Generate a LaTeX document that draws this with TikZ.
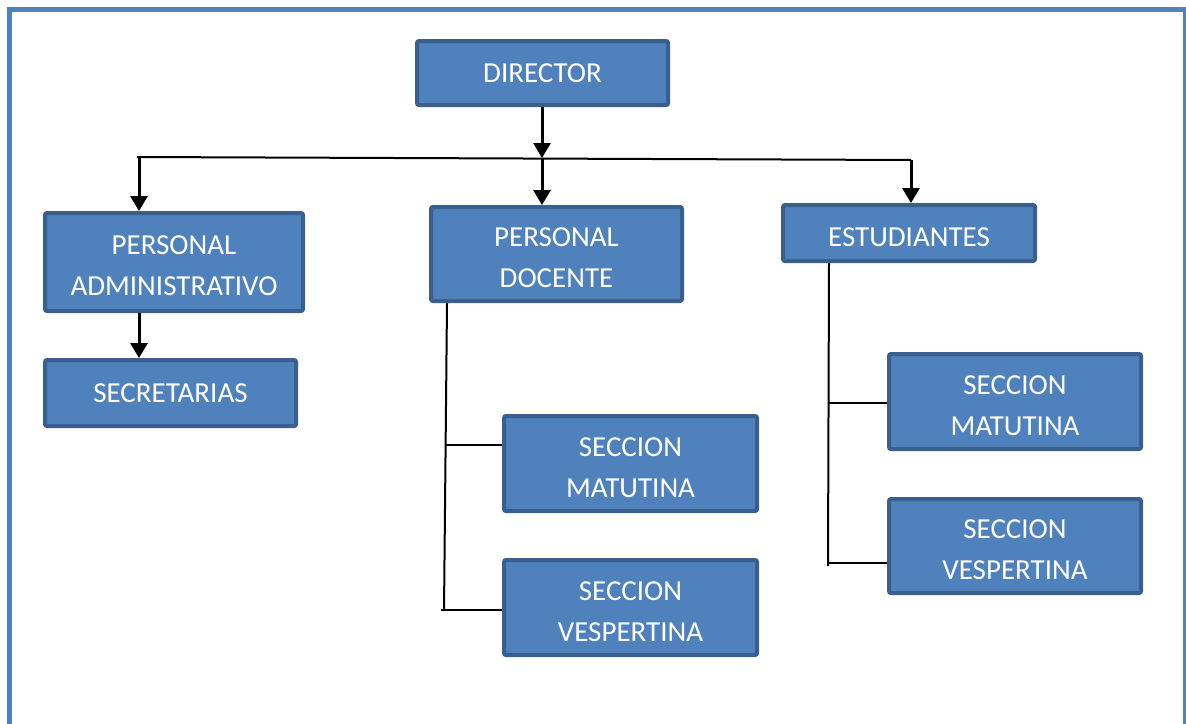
\documentclass[tikz,border=0pt]{standalone}
\usepackage{fontspec}
\setmainfont{Carlito}
\usetikzlibrary{arrows.meta}
\definecolor{azul}{HTML}{4F81BD}
\definecolor{azuloscuro}{HTML}{3A5F8E}
\newcommand{\bajatexto}{\rule{0pt}{27pt}}

\tikzset{
  unidad/.style={draw=azuloscuro, fill=azul, line width=4pt, rounded corners=2pt,
    text=white, align=center, inner sep=0pt, font=\fontsize{29}{41}\selectfont},
  flecha/.style={-{Triangle[length=15pt,width=17pt]}, line width=3pt},
  linea/.style={line width=2pt},
  marco/.style={draw=azul, line width=5pt}
}

\begin{document}
\begin{tikzpicture}[x=1pt,y=-1pt]
    \useasboundingbox (0,0) rectangle (1186,723);
    \draw[marco] (9.5,760) -- (9.5,9.5) -- (1185,9.5) -- (1185,760);

    % cajas
    \node[unidad, minimum width=251pt, minimum height=64pt] (director) at (542.5,73) {DIRECTOR};
    \node[unidad, minimum width=258pt, minimum height=98pt] (padmin) at (174,262) {\bajatexto PERSONAL\\ADMINISTRATIVO};
    \node[unidad, minimum width=251pt, minimum height=66pt] (secret) at (170.5,393) {SECRETARIAS};
    \node[unidad, minimum width=251pt, minimum height=94pt] (pdocente) at (556.5,254) {\bajatexto PERSONAL\\DOCENTE};
    \node[unidad, minimum width=252pt, minimum height=56pt] (estud) at (909,233) {\bajatexto ESTUDIANTES};
    \node[unidad, minimum width=253pt, minimum height=95pt] (dmat) at (630.5,463.5) {\bajatexto SECCION\\MATUTINA};
    \node[unidad, minimum width=253pt, minimum height=95pt] (dvesp) at (630.5,607.5) {\bajatexto SECCION\\VESPERTINA};
    \node[unidad, minimum width=252pt, minimum height=95pt] (emat) at (1015,401.5) {\bajatexto SECCION\\MATUTINA};
    \node[unidad, minimum width=252pt, minimum height=94pt] (evesp) at (1015,546) {\bajatexto SECCION\\VESPERTINA};

    % barra
    \coordinate (busI) at (137,157);
    \coordinate (bajaI) at (139,157);
    \coordinate (busC) at (542,158);
    \coordinate (busD) at (911,160);
    \draw[linea] (busI) -- (busD);

    \draw[flecha] (director.south -| busC) -- (busC);
    \draw[flecha] (busC) -- (busC |- pdocente.north);
    \draw[flecha] (bajaI) -- (bajaI |- padmin.north);
    \draw[flecha] (busD) -- (busD |- estud.north);
    \draw[flecha] (padmin.south -| bajaI) -- (secret.north -| bajaI);

    % docente
    \coordinate (dm) at (446,445);
    \coordinate (dv) at (444,611);
    \draw[linea] (pdocente.south -| 447,0) -- (dv);
    \draw[linea] (dm) -- (dmat.west |- dm);
    \draw[linea] (441,610) -- (dvesp.west |- 0,610);

    % estudiantes
    \coordinate (em) at (829,403);
    \coordinate (ev) at (828,566);
    \draw[linea] (estud.south -| em) -- (ev);
    \draw[linea] (em) -- (emat.west |- em);
    \draw[linea] (828,563) -- (evesp.west |- 0,563);
\end{tikzpicture}
\end{document}
